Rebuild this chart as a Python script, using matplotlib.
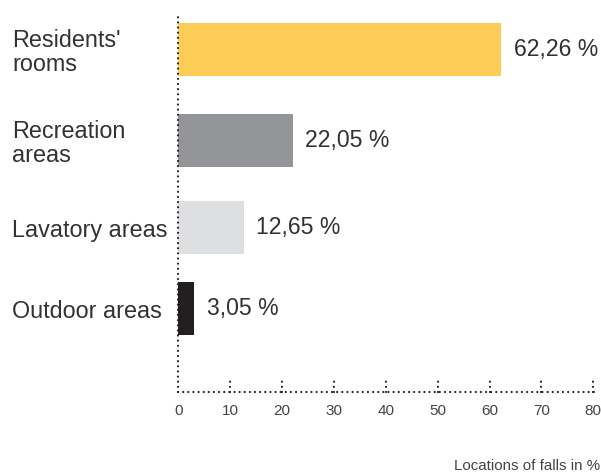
import matplotlib
matplotlib.use("Agg")
import matplotlib.pyplot as plt

categories = ["Residents'\nrooms", "Recreation\nareas", "Lavatory areas", "Outdoor areas"]
values = [62.26, 22.05, 12.65, 3.05]
value_labels = ["62,26 %", "22,05 %", "12,65 %", "3,05 %"]
colors = ["#FECD57", "#939598", "#DEDFE1", "#231F20"]
xticks = [0, 10, 20, 30, 40, 50, 60, 70, 80]
xlabel = "Locations of falls in %"

plt.rcParams['font.family'] = ['Liberation Sans', 'DejaVu Sans']
W, H = 601, 473
fig = plt.figure(figsize=(W/100, H/100), dpi=100)
ax = fig.add_axes([178.3/W, 1-392/H, (593.3-178.3)/W, (392-13)/H])

# y positions in pixel-like units (layout)
ypos = [49.5, 140.5, 227.5, 308.5]
ax.barh(ypos, values, height=53, color=colors, align='center')
ax.set_ylim(392, 13)
ax.set_xlim(0, 80)

txt_color = '#333132'
for y, v, lab in zip(ypos, values, value_labels):
    ax.text(v + 2.4, y, lab, va='center', ha='left', fontsize=16.6, color=txt_color)

ax.set_yticks(ypos)
ax.set_yticklabels(categories, fontsize=16.8, color=txt_color, linespacing=1.03)
for t in ax.get_yticklabels():
    t.set_ha('left')
ax.tick_params(axis='y', length=0, pad=(178.3-12)*0.72)

ax.set_xticks(xticks)
ax.set_xticklabels([str(x) for x in xticks], fontsize=11, color='#444444')
ax.tick_params(axis='x', length=0, pad=8.5)

for s in ['top', 'right']:
    ax.spines[s].set_visible(False)
for s in ['left', 'bottom']:
    sp = ax.spines[s]
    sp.set_linewidth(1.6)
    sp.set_linestyle((0, (0.01, 2.3)))
    sp.set_capstyle('round')
    sp.set_color('#231F20')
ax.spines['bottom'].set_bounds(0, 80.3)

ax.vlines(xticks[1:], 392, 381, colors='#231F20', linewidth=1.6,
          linestyles=[(0, (0.01, 2.3))], capstyle='round', clip_on=False)

fig.text(600/W, 1-466/H, xlabel, ha='right', va='center', fontsize=10.9, color='#444444')

fig.savefig("out.png", dpi=100)
